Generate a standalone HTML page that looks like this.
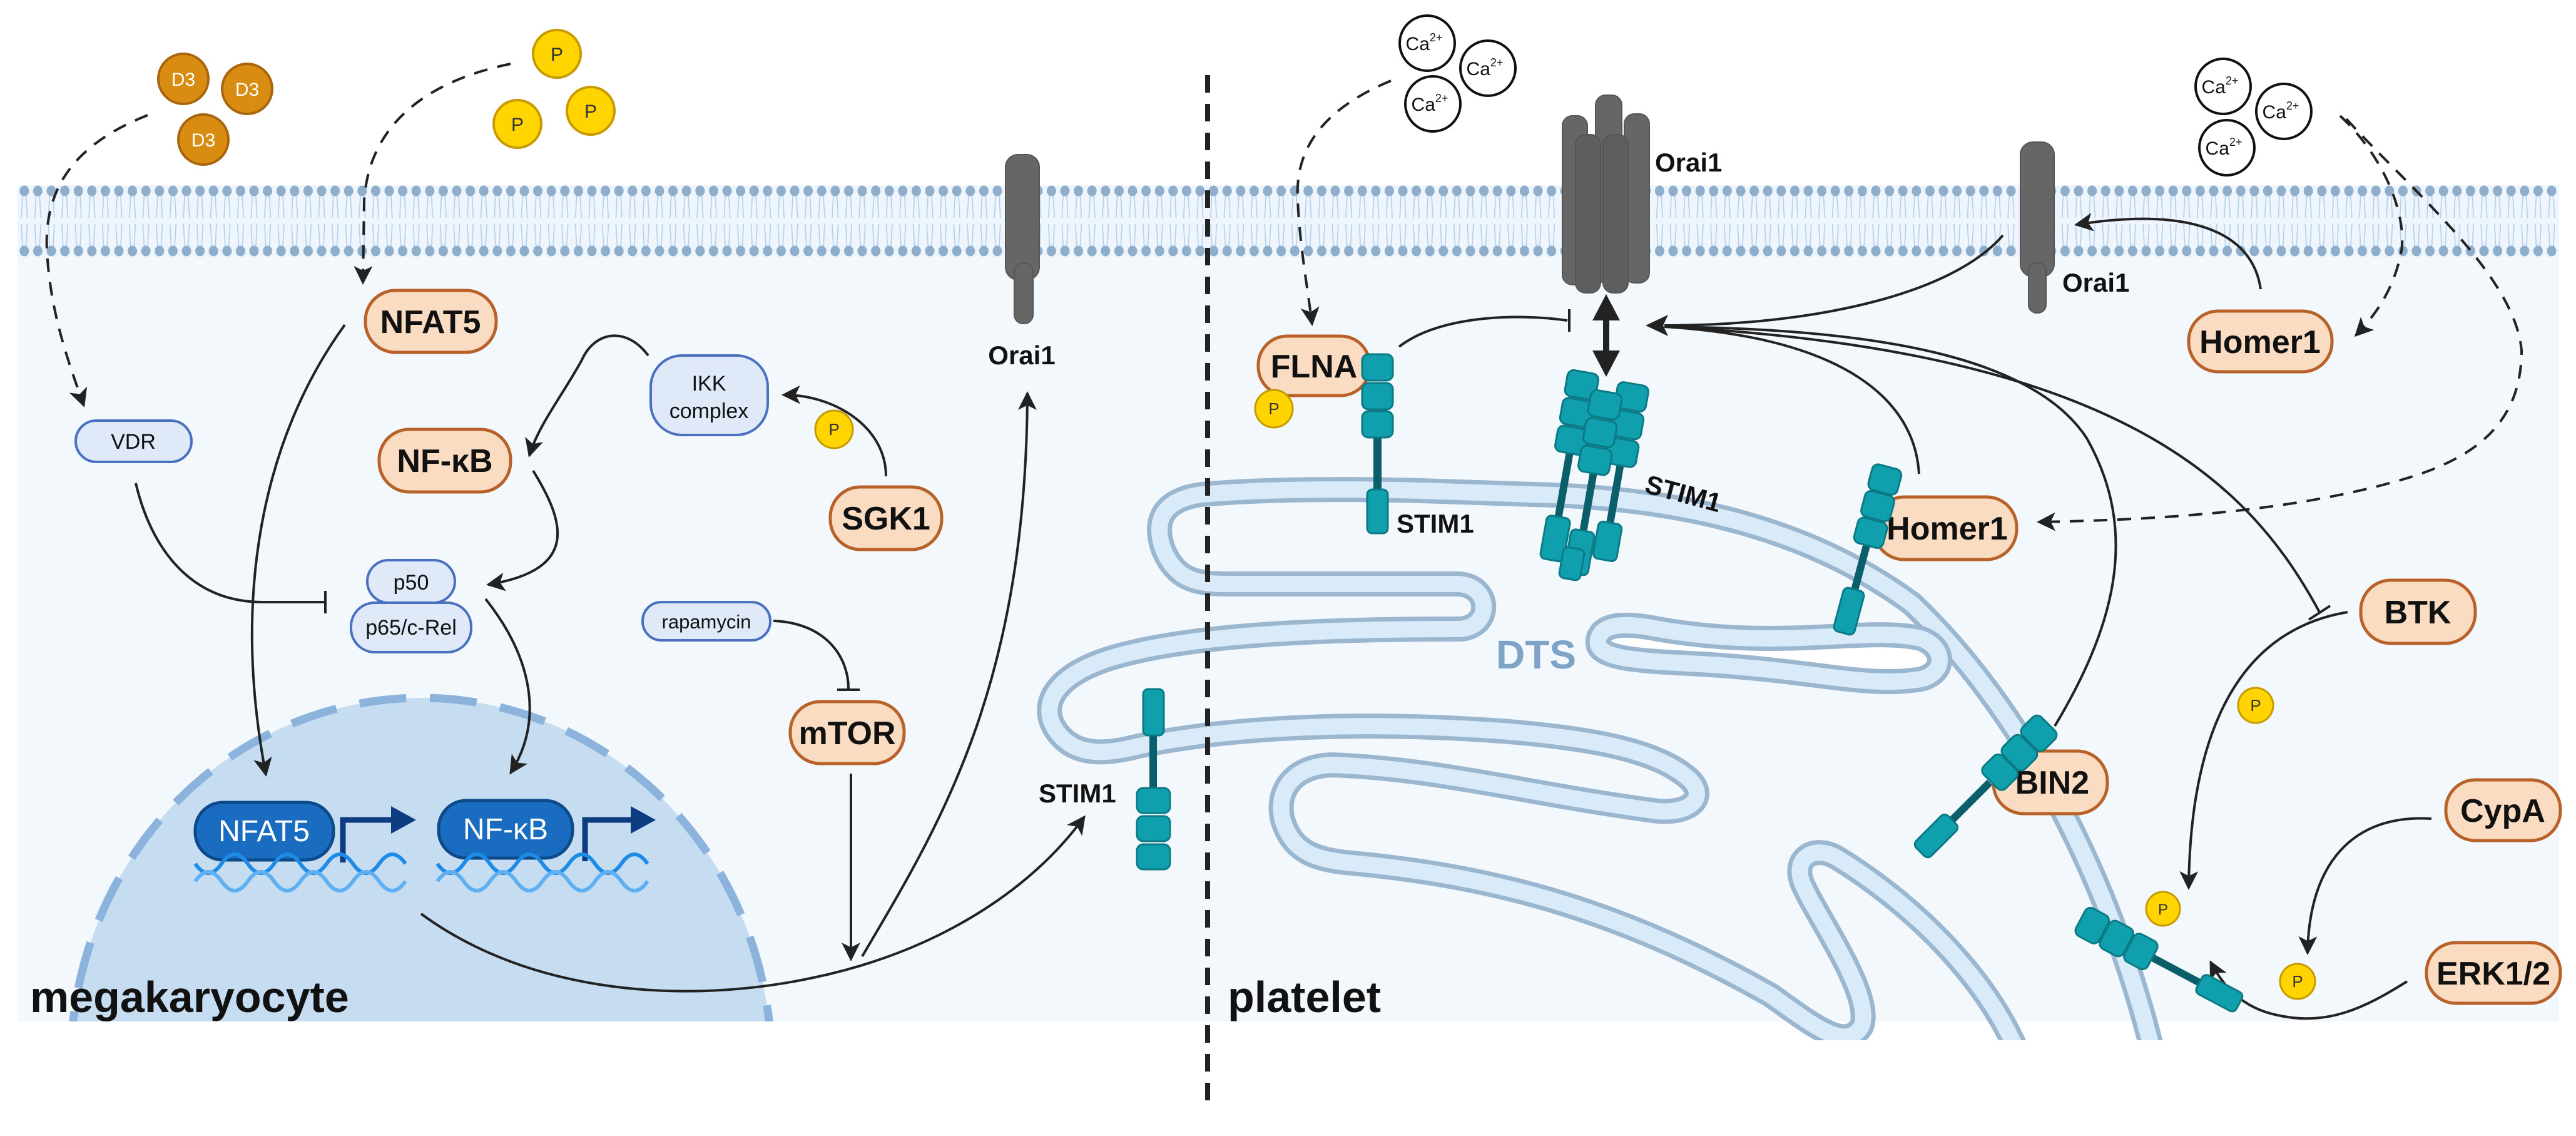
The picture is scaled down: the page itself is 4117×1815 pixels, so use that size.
<!DOCTYPE html>
<html><head><meta charset="utf-8"><style>
html,body{margin:0;padding:0;background:#fff;overflow:hidden;width:4117px;height:1815px;}
svg{display:block;}
text{font-family:"Liberation Sans",Arial,sans-serif;}
</style></head><body>
<svg width="4117" height="1815" viewBox="0 0 4117 1815" xmlns="http://www.w3.org/2000/svg">
<defs>
<pattern id="mem" patternUnits="userSpaceOnUse" x="28" y="296" width="21.6" height="114">
<line x1="8" y1="16" x2="6" y2="52" stroke="#b3cfe8" stroke-width="1.6"/>
<line x1="13.6" y1="16" x2="15.6" y2="52" stroke="#b3cfe8" stroke-width="1.6"/>
<line x1="8" y1="98" x2="6" y2="62" stroke="#b3cfe8" stroke-width="1.6"/>
<line x1="13.6" y1="98" x2="15.6" y2="62" stroke="#b3cfe8" stroke-width="1.6"/>
<ellipse cx="10.8" cy="9" rx="7.5" ry="8.5" fill="#8eaecb"/>
<ellipse cx="10.8" cy="105" rx="7.5" ry="8.5" fill="#8eaecb"/>
</pattern>
<marker id="ah" markerUnits="userSpaceOnUse" markerWidth="30" markerHeight="30" viewBox="0 0 10 10" refX="9" refY="5" orient="auto"><path d="M0,0 L10,5 L0,10 L2.5,5 z" fill="#222"/></marker>
<clipPath id="cellclip"><rect x="28" y="0" width="4062" height="1662"/></clipPath>
<clipPath id="nucclip"><rect x="0" y="0" width="4117" height="1632"/></clipPath>
</defs>

<rect x="28" y="350" width="4062" height="1282" fill="#f3f8fd"/>
<rect x="28" y="296" width="4062" height="114" fill="#eef5fc"/>
<rect x="28" y="296" width="4062" height="114" fill="url(#mem)"/>

<g clip-path="url(#nucclip)">
<ellipse cx="673" cy="1700" rx="560" ry="585" fill="#c6dcf1" stroke="#8cb3dc" stroke-width="13" stroke-dasharray="75 38"/>
</g>

<g clip-path="url(#cellclip)" fill="none" stroke-linecap="round" stroke-linejoin="round">
<path d="M3445,1700 C3390,1460 3260,1160 3056,965 C2900,850 2700,795 2450,790 C2300,785 2100,775 1920,790 C1850,800 1845,840 1860,880 C1880,925 1910,933 1960,933 L2330,933 C2385,935 2385,1005 2330,1005 C2100,1005 1900,1015 1780,1050 C1680,1080 1660,1130 1690,1170 C1720,1210 1770,1205 1820,1192 C1950,1165 2150,1150 2400,1168 C2550,1180 2650,1200 2700,1245 C2730,1275 2700,1300 2650,1296 C2450,1270 2300,1228 2128,1222 C2060,1225 2040,1270 2050,1310 C2065,1360 2100,1372 2150,1378 C2400,1400 2600,1460 2830,1590 C2900,1640 2950,1680 2975,1640 C2995,1590 2900,1460 2880,1410 C2865,1370 2900,1350 2935,1370 C3050,1440 3180,1560 3232,1700" stroke="#9bb7cf" stroke-width="40"/>
<path d="M3445,1700 C3390,1460 3260,1160 3056,965 C2900,850 2700,795 2450,790 C2300,785 2100,775 1920,790 C1850,800 1845,840 1860,880 C1880,925 1910,933 1960,933 L2330,933 C2385,935 2385,1005 2330,1005 C2100,1005 1900,1015 1780,1050 C1680,1080 1660,1130 1690,1170 C1720,1210 1770,1205 1820,1192 C1950,1165 2150,1150 2400,1168 C2550,1180 2650,1200 2700,1245 C2730,1275 2700,1300 2650,1296 C2450,1270 2300,1228 2128,1222 C2060,1225 2040,1270 2050,1310 C2065,1360 2100,1372 2150,1378 C2400,1400 2600,1460 2830,1590 C2900,1640 2950,1680 2975,1640 C2995,1590 2900,1460 2880,1410 C2865,1370 2900,1350 2935,1370 C3050,1440 3180,1560 3232,1700" stroke="#d9ebf9" stroke-width="26"/>
<path d="M2554,1022 C2560,995 2600,995 2650,1005 C2850,1040 2980,1000 3070,1020 C3110,1035 3110,1075 3070,1085 C2980,1100 2900,1070 2700,1060 C2600,1055 2550,1050 2554,1022 Z" stroke="#9bb7cf" stroke-width="40" fill="#fff"/>
<path d="M2554,1022 C2560,995 2600,995 2650,1005 C2850,1040 2980,1000 3070,1020 C3110,1035 3110,1075 3070,1085 C2980,1100 2900,1070 2700,1060 C2600,1055 2550,1050 2554,1022 Z" stroke="#d9ebf9" stroke-width="26"/>
</g>
<text x="2391" y="1068" font-size="64" font-weight="bold" fill="#7fa3c6">DTS</text>

<line x1="1930" y1="120" x2="1930" y2="1767" stroke="#222" stroke-width="8" stroke-dasharray="28 18"/>

<g stroke="#a8650d" stroke-width="4" fill="#d88c12">
<ellipse cx="293" cy="126" rx="40" ry="40"/><ellipse cx="395" cy="142" rx="40" ry="40"/><ellipse cx="325" cy="223" rx="40" ry="40"/>
</g>
<g font-size="30" fill="#fff" text-anchor="middle"><text x="293" y="137">D3</text><text x="395" y="153">D3</text><text x="325" y="234">D3</text></g>
<g stroke="#c79a00" stroke-width="4" fill="#ffd400">
<circle cx="890" cy="86" r="38"/><circle cx="944" cy="177" r="38"/><circle cx="827" cy="198" r="38"/>
</g>
<g font-size="30" fill="#333" text-anchor="middle"><text x="890" y="97">P</text><text x="944" y="188">P</text><text x="827" y="209">P</text></g>

<g stroke="#111" stroke-width="4" fill="#fff">
<circle cx="2281" cy="69" r="44"/><circle cx="2378" cy="109" r="44"/><circle cx="2290" cy="166" r="44"/>
<circle cx="3553" cy="138" r="44"/><circle cx="3650" cy="178" r="44"/><circle cx="3559" cy="236" r="44"/>
</g>
<g font-size="30" fill="#111" text-anchor="middle">
<text x="2276" y="80">Ca<tspan font-size="18" dy="-14">2+</tspan></text>
<text x="2373" y="120">Ca<tspan font-size="18" dy="-14">2+</tspan></text>
<text x="2285" y="177">Ca<tspan font-size="18" dy="-14">2+</tspan></text>
<text x="3548" y="149">Ca<tspan font-size="18" dy="-14">2+</tspan></text>
<text x="3645" y="189">Ca<tspan font-size="18" dy="-14">2+</tspan></text>
<text x="3554" y="247">Ca<tspan font-size="18" dy="-14">2+</tspan></text>
</g>

<g fill="#666" stroke="#555" stroke-width="2">
<rect x="1607" y="247" width="54" height="200" rx="20"/><rect x="1621" y="420" width="30" height="97" rx="14"/>
<rect x="3229" y="227" width="54" height="215" rx="20"/><rect x="3242" y="420" width="28" height="80" rx="13"/>
<rect x="2497" y="185" width="40" height="270" rx="16"/>
<rect x="2550" y="152" width="42" height="300" rx="16"/>
<rect x="2596" y="182" width="40" height="270" rx="16"/>
<rect x="2518" y="215" width="40" height="253" rx="16" fill="#5e5e5e"/>
<rect x="2562" y="215" width="40" height="253" rx="16" fill="#5e5e5e"/>
</g>
<g font-size="42" font-weight="bold" fill="#111">
<text x="1633" y="582" text-anchor="middle">Orai1</text>
<text x="2645" y="274">Orai1</text>
<text x="3296" y="466">Orai1</text>
</g>

<g fill="none" stroke="#222" stroke-width="4">
<path d="M236,184 C120,230 70,300 75,400 C80,500 110,580 134,648" stroke-dasharray="22 16" marker-end="url(#ah)"/>
<path d="M816,102 C680,130 590,200 582,320 L580,452" stroke-dasharray="22 16" marker-end="url(#ah)"/>
<path d="M2223,129 C2100,180 2070,250 2074,320 C2078,400 2090,460 2097,518" stroke-dasharray="22 16" marker-end="url(#ah)"/>
<path d="M3740,185 C3820,260 3850,360 3836,410 C3825,460 3800,500 3765,536" stroke-dasharray="22 16" marker-end="url(#ah)"/>
<path d="M3750,190 C3850,300 4020,440 4030,560 C4030,680 3950,730 3860,760 C3700,810 3500,830 3258,834" stroke-dasharray="22 16" marker-end="url(#ah)"/>

<path d="M551,519 C420,700 370,950 425,1238" marker-end="url(#ah)"/>
<path d="M1036,568 C1000,520 950,530 930,575 C900,630 860,680 846,728" marker-end="url(#ah)"/>
<path d="M1416,761 C1416,680 1330,630 1252,631" marker-end="url(#ah)"/>
<path d="M852,752 C900,830 930,910 780,934" marker-end="url(#ah)"/>
<path d="M776,957 C850,1050 870,1150 816,1235" marker-end="url(#ah)"/>
<path d="M217,772 C240,870 300,962 420,962 L518,962"/>
<line x1="520" y1="944" x2="520" y2="980"/>
<path d="M1236,992 C1320,995 1356,1050 1356,1100"/>
<line x1="1338" y1="1102" x2="1374" y2="1102"/>
<path d="M1360,1236 L1360,1533" marker-end="url(#ah)"/>
<path d="M673,1460 C850,1590 1100,1605 1300,1562 C1500,1520 1650,1420 1733,1305" marker-end="url(#ah)"/>
<path d="M1378,1528 C1500,1320 1640,1100 1642,628" marker-end="url(#ah)"/>

<path d="M2236,554 C2300,505 2420,500 2505,512"/>
<line x1="2508" y1="494" x2="2508" y2="530"/>
<path d="M3201,376 C3120,470 2900,520 2660,520"/>
<path d="M3613,462 C3600,370 3500,330 3318,359" marker-end="url(#ah)"/>
<path d="M3067,757 C3060,640 2950,540 2660,522"/>
<path d="M3284,1160 C3380,1000 3420,850 3335,700 C3250,570 3000,525 2660,522"/>
<path d="M3707,978 C3600,780 3400,560 2660,522"/>
<line x1="3690" y1="990" x2="3724" y2="968"/>
<path d="M3752,978 C3560,1010 3500,1200 3498,1419" marker-end="url(#ah)"/>
<path d="M3886,1308 C3760,1300 3690,1380 3688,1523" marker-end="url(#ah)"/>
<path d="M3847,1568 C3780,1610 3720,1640 3640,1622 C3580,1610 3550,1570 3533,1537" marker-end="url(#ah)"/>
</g>
<polygon points="2630,520 2666,503 2658,520 2666,537" fill="#222"/>
<line x1="2567" y1="500" x2="2567" y2="575" stroke="#222" stroke-width="10"/>
<polygon points="2567,470 2545,512 2589,512" fill="#222"/>
<polygon points="2567,602 2545,560 2589,560" fill="#222"/>

<g fill="#f9dcc1" stroke="#b8622a" stroke-width="5">
<rect x="584" y="464" width="209" height="99" rx="48"/>
<rect x="606" y="686" width="210" height="100" rx="48"/>
<rect x="1327" y="778" width="178" height="100" rx="48"/>
<rect x="1263" y="1121" width="182" height="99" rx="48"/>
<rect x="2011" y="537" width="178" height="95" rx="46"/>
<rect x="3498" y="497" width="229" height="97" rx="47"/>
<rect x="2995" y="794" width="228" height="100" rx="48"/>
<rect x="3186" y="1200" width="182" height="100" rx="48"/>
<rect x="3773" y="927" width="183" height="101" rx="48"/>
<rect x="3909" y="1246" width="183" height="97" rx="47"/>
<rect x="3878" y="1506" width="214" height="97" rx="47"/>
</g>
<g font-size="52" font-weight="bold" fill="#111" text-anchor="middle">
<text x="688" y="532">NFAT5</text>
<text x="711" y="754">NF-κB</text>
<text x="1416" y="846">SGK1</text>
<text x="1354" y="1189">mTOR</text>
<text x="2100" y="603">FLNA</text>
<text x="3612" y="564">Homer1</text>
<text x="3112" y="862">Homer1</text>
<text x="3280" y="1268">BIN2</text>
<text x="3864" y="996">BTK</text>
<text x="4000" y="1313">CypA</text>
<text x="3985" y="1573">ERK1/2</text>
</g>

<g fill="#dfe9f8" stroke="#4a70c0" stroke-width="4">
<rect x="1040" y="568" width="187" height="127" rx="50"/>
<rect x="121" y="672" width="185" height="66" rx="33"/>
<rect x="561" y="963" width="192" height="79" rx="38"/>
<rect x="587" y="895" width="140" height="68" rx="34"/>
<rect x="1027" y="962" width="204" height="61" rx="30"/>
</g>
<g font-size="34" fill="#111" text-anchor="middle">
<text x="1133" y="624">IKK</text>
<text x="1133" y="668">complex</text>
<text x="213" y="717">VDR</text>
<text x="657" y="942">p50</text>
<text x="657" y="1014">p65/c-Rel</text>
<text x="1129" y="1004" font-size="31">rapamycin</text>
</g>

<g fill="#1a6cc0" stroke="#0c4a8a" stroke-width="5">
<rect x="312" y="1282" width="221" height="92" rx="44"/>
<rect x="701" y="1279" width="214" height="92" rx="44"/>
</g>
<g font-size="48" fill="#fff" text-anchor="middle"><text x="422" y="1344">NFAT5</text><text x="808" y="1341">NF-κB</text></g>
<g fill="none" stroke="#0d3d80" stroke-width="9">
<path d="M548,1378 L548,1310 L635,1310"/><path d="M935,1376 L935,1310 L1018,1310"/>
</g>
<polygon points="665,1310 625,1288 625,1332" fill="#0d3d80"/>
<polygon points="1048,1310 1008,1288 1008,1332" fill="#0d3d80"/>
<g fill="none" stroke-width="6">
<path d="M312,1380 q21,30 42,0 t42,0 t42,0 t42,0 t42,0 t42,0 t42,0 t42,0" stroke="#1e8ce6"/>
<path d="M312,1408 q21,-30 42,0 t42,0 t42,0 t42,0 t42,0 t42,0 t42,0 t42,0" stroke="#5fb0f2"/>
<path d="M699,1380 q21,30 42,0 t42,0 t42,0 t42,0 t42,0 t42,0 t42,0 t42,0" stroke="#1e8ce6"/>
<path d="M699,1408 q21,-30 42,0 t42,0 t42,0 t42,0 t42,0 t42,0 t42,0 t42,0" stroke="#5fb0f2"/>
</g>

<g stroke="#c79a00" stroke-width="3" fill="#ffd400">
<circle cx="1333" cy="686" r="30"/><circle cx="2036" cy="653" r="30"/><circle cx="3605" cy="1127" r="28"/><circle cx="3672" cy="1568" r="28"/>
</g>
<g font-size="26" fill="#333" text-anchor="middle"><text x="1333" y="695">P</text><text x="2036" y="662">P</text><text x="3605" y="1136">P</text><text x="3672" y="1577">P</text></g>

<g fill="#10a0ad" stroke="#0a7a85" stroke-width="3">
<rect x="1837" y="1175" width="12" height="86" fill="#0b5f6b" stroke="none"/>
<rect x="1827" y="1101" width="33" height="74" rx="8"/>
<rect x="1817" y="1259" width="53" height="40" rx="10"/><rect x="1817" y="1304" width="53" height="40" rx="10"/><rect x="1817" y="1349" width="53" height="40" rx="10"/>
<rect x="2195" y="699" width="13" height="85" fill="#0b5f6b" stroke="none"/>
<rect x="2177" y="566" width="49" height="42" rx="10"/><rect x="2177" y="612" width="49" height="42" rx="10"/><rect x="2177" y="657" width="49" height="42" rx="10"/>
<rect x="2185" y="782" width="33" height="70" rx="8"/>
<g transform="rotate(10 2550 760)">
<rect x="2497" y="730" width="12" height="110" fill="#0b5f6b" stroke="none"/>
<rect x="2540" y="740" width="12" height="110" fill="#0b5f6b" stroke="none"/>
<rect x="2580" y="730" width="12" height="100" fill="#0b5f6b" stroke="none"/>
<rect x="2485" y="835" width="38" height="70" rx="8"/><rect x="2527" y="850" width="38" height="70" rx="8"/><rect x="2568" y="830" width="38" height="60" rx="8"/>
<rect x="2520" y="880" width="34" height="50" rx="8"/>
<rect x="2478" y="600" width="50" height="42" rx="10"/><rect x="2478" y="645" width="50" height="42" rx="10"/><rect x="2478" y="690" width="50" height="42" rx="10"/>
<rect x="2560" y="605" width="50" height="42" rx="10"/><rect x="2560" y="650" width="50" height="42" rx="10"/><rect x="2560" y="695" width="50" height="42" rx="10"/>
<rect x="2520" y="625" width="50" height="42" rx="10"/><rect x="2520" y="670" width="50" height="42" rx="10"/><rect x="2520" y="715" width="50" height="42" rx="10"/>
</g>
<g transform="rotate(15 2985 880)">
<rect x="2975" y="870" width="12" height="80" fill="#0b5f6b" stroke="none"/>
<rect x="2958" y="742" width="48" height="42" rx="10"/><rect x="2958" y="786" width="48" height="42" rx="10"/><rect x="2958" y="830" width="48" height="42" rx="10"/>
<rect x="2964" y="945" width="34" height="72" rx="8"/>
</g>
<g transform="rotate(45 3180 1250)">
<rect x="3174" y="1250" width="12" height="90" fill="#0b5f6b" stroke="none"/>
<rect x="3155" y="1118" width="50" height="42" rx="10"/><rect x="3155" y="1162" width="50" height="42" rx="10"/><rect x="3155" y="1206" width="50" height="42" rx="10"/>
<rect x="3163" y="1335" width="34" height="72" rx="8"/>
</g>
<g transform="rotate(-62 3440 1530)">
<rect x="3434" y="1530" width="12" height="90" fill="#0b5f6b" stroke="none"/>
<rect x="3415" y="1400" width="50" height="42" rx="10"/><rect x="3415" y="1444" width="50" height="42" rx="10"/><rect x="3415" y="1488" width="50" height="42" rx="10"/>
<rect x="3423" y="1615" width="34" height="72" rx="8"/>
</g>
</g>
<circle cx="3457" cy="1452" r="27" fill="#ffd400" stroke="#c79a00" stroke-width="3"/>
<text x="3457" y="1461" font-size="24" fill="#333" text-anchor="middle">P</text>

<g font-size="42" font-weight="bold" fill="#111">
<text x="1660" y="1282">STIM1</text>
<text x="2232" y="851">STIM1</text>
<text x="2628" y="803" transform="rotate(15 2690 790)">STIM1</text>
</g>

<text x="48" y="1617" font-size="70" font-weight="bold" fill="#111">megakaryocyte</text>
<text x="1962" y="1617" font-size="70" font-weight="bold" fill="#111">platelet</text>
</svg>
</body></html>
